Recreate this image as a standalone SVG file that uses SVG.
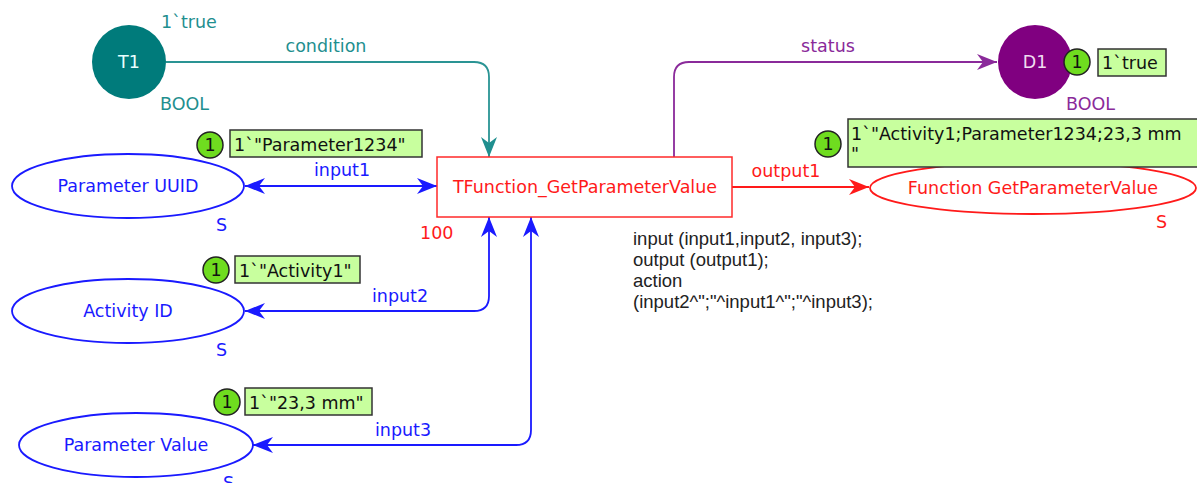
<svg xmlns="http://www.w3.org/2000/svg" width="1197" height="483" viewBox="0 0 1197 483">
<style>
text{font-family:"DejaVu Sans",Verdana,sans-serif;font-size:17.5px}
.c{text-anchor:middle}
.teal{fill:#1f8f8f}
.pur{fill:#8a2a9a}
.blue{fill:#1a1aff}
.red{fill:#ff1a1a}
.blk{fill:#111}
.code{font-family:"Liberation Sans",Arial,sans-serif;font-size:18.5px;fill:#222}
.tok{fill:#6fdc1f;stroke:#222;stroke-width:1.5}
.box{fill:#c8ff9e;stroke:#333;stroke-width:1.5}
.pl{fill:#fff;stroke-width:1.8}
.arc{fill:none;stroke-width:1.8}
</style>
<defs>
<marker id="aT" markerUnits="userSpaceOnUse" markerWidth="22" markerHeight="16" refX="20" refY="8" orient="auto"><path d="M0,0 L20,8 L0,16 L6,8 z" fill="#1f8f8f"/></marker>
<marker id="aP" markerUnits="userSpaceOnUse" markerWidth="22" markerHeight="16" refX="20" refY="8" orient="auto"><path d="M0,0 L20,8 L0,16 L6,8 z" fill="#8a2a9a"/></marker>
<marker id="aB" markerUnits="userSpaceOnUse" markerWidth="22" markerHeight="16" refX="20" refY="8" orient="auto-start-reverse"><path d="M0,0 L20,8 L0,16 L6,8 z" fill="#1a1aff"/></marker>
<marker id="aR" markerUnits="userSpaceOnUse" markerWidth="22" markerHeight="16" refX="20" refY="8" orient="auto"><path d="M0,0 L20,8 L0,16 L6,8 z" fill="#ff1a1a"/></marker>
</defs>
<rect width="1197" height="483" fill="#fff"/>

<g id="connectors">
<path d="M166,62 H474 Q489,62 489,77 V157" class="arc" stroke="#2a9494" marker-end="url(#aT)"/>
<path d="M674,157 V77 Q674,62 689,62 H997" class="arc" stroke="#8a2a9a" marker-end="url(#aP)"/>
<path d="M245,186 H437" class="arc" stroke="#1a1aff" marker-start="url(#aB)" marker-end="url(#aB)"/>
<path d="M732,187 H869" class="arc" stroke="#ff1a1a" marker-end="url(#aR)"/>
<path d="M245,311 H474 Q489,311 489,296 V217" class="arc" stroke="#1a1aff" marker-start="url(#aB)" marker-end="url(#aB)"/>
<path d="M253,445 H516 Q531,445 531,430 V217" class="arc" stroke="#1a1aff" marker-start="url(#aB)" marker-end="url(#aB)"/>
<text x="326" y="52" class="c teal">condition</text>
<text x="828" y="52" class="c pur">status</text>
<text x="342" y="176" class="c blue">input1</text>
<text x="786" y="177" class="c red">output1</text>
<text x="400" y="302" class="c blue">input2</text>
<text x="403" y="436" class="c blue">input3</text>
</g>

<g id="T1">
<circle cx="129" cy="62" r="37" fill="#007b7b"/>
<text x="129" y="68" class="c" fill="#e8ffff">T1</text>
<text x="161" y="28" class="teal">1`true</text>
<text x="160" y="110" class="teal">BOOL</text>
</g>

<g id="D1">
<circle cx="1035" cy="62" r="37" fill="#800080"/>
<text x="1035" y="68" class="c" fill="#f0dcf0">D1</text>
<text x="1066" y="110" class="pur">BOOL</text>
<circle cx="1077" cy="62" r="13" class="tok"/>
<text x="1077" y="68" class="c blk">1</text>
<rect x="1098" y="49" width="68" height="27" class="box"/>
<text x="1102" y="69" class="blk">1`true</text>
</g>

<g id="TFunction">
<rect x="437" y="157" width="295" height="60" fill="#fff" stroke="#ff2a2a" stroke-width="1.5"/>
<text x="585" y="193" class="c red">TFunction_GetParameterValue</text>
<text x="420" y="239" class="red">100</text>
<text class="code"><tspan x="633" y="245">input (input1,input2, input3);</tspan><tspan x="633" y="266">output (output1);</tspan><tspan x="633" y="287">action</tspan><tspan x="633" y="308">(input2^";"^input1^";"^input3);</tspan></text>
</g>

<g id="FunctionGetParameterValue">
<ellipse cx="1033" cy="188" rx="163" ry="26" class="pl" stroke="#ff1a1a"/>
<text x="1033" y="194" class="c red">Function GetParameterValue</text>
<text x="1156" y="228" class="red">S</text>
<circle cx="828" cy="144" r="13" class="tok"/>
<text x="828" y="150" class="c blk">1</text>
<rect x="848" y="119" width="352" height="48" class="box"/>
<text class="blk"><tspan x="851" y="140">1`"Activity1;Parameter1234;23,3 mm</tspan><tspan x="851" y="160">"</tspan></text>
</g>

<g id="ParameterUUID">
<ellipse cx="128" cy="186" rx="116" ry="32" class="pl" stroke="#1a1aff"/>
<text x="128" y="192" class="c blue">Parameter UUID</text>
<text x="216" y="231" class="blue">S</text>
<circle cx="210" cy="145" r="13" class="tok"/>
<text x="210" y="151" class="c blk">1</text>
<rect x="230" y="130" width="192" height="27" class="box"/>
<text x="234" y="151" class="blk">1`"Parameter1234"</text>
</g>

<g id="ActivityID">
<ellipse cx="128" cy="311" rx="116" ry="32" class="pl" stroke="#1a1aff"/>
<text x="128" y="317" class="c blue">Activity ID</text>
<text x="216" y="356" class="blue">S</text>
<circle cx="216" cy="270" r="13" class="tok"/>
<text x="216" y="276" class="c blk">1</text>
<rect x="235" y="256" width="125" height="27" class="box"/>
<text x="239" y="277" class="blk">1`"Activity1"</text>
</g>

<g id="ParameterValue">
<ellipse cx="136" cy="445" rx="117" ry="32" class="pl" stroke="#1a1aff"/>
<text x="136" y="451" class="c blue">Parameter Value</text>
<text x="223" y="489" class="blue">S</text>
<circle cx="227" cy="402" r="13" class="tok"/>
<text x="227" y="408" class="c blk">1</text>
<rect x="245" y="388" width="127" height="27" class="box"/>
<text x="249" y="409" class="blk">1`"23,3 mm"</text>
</g>
</svg>
